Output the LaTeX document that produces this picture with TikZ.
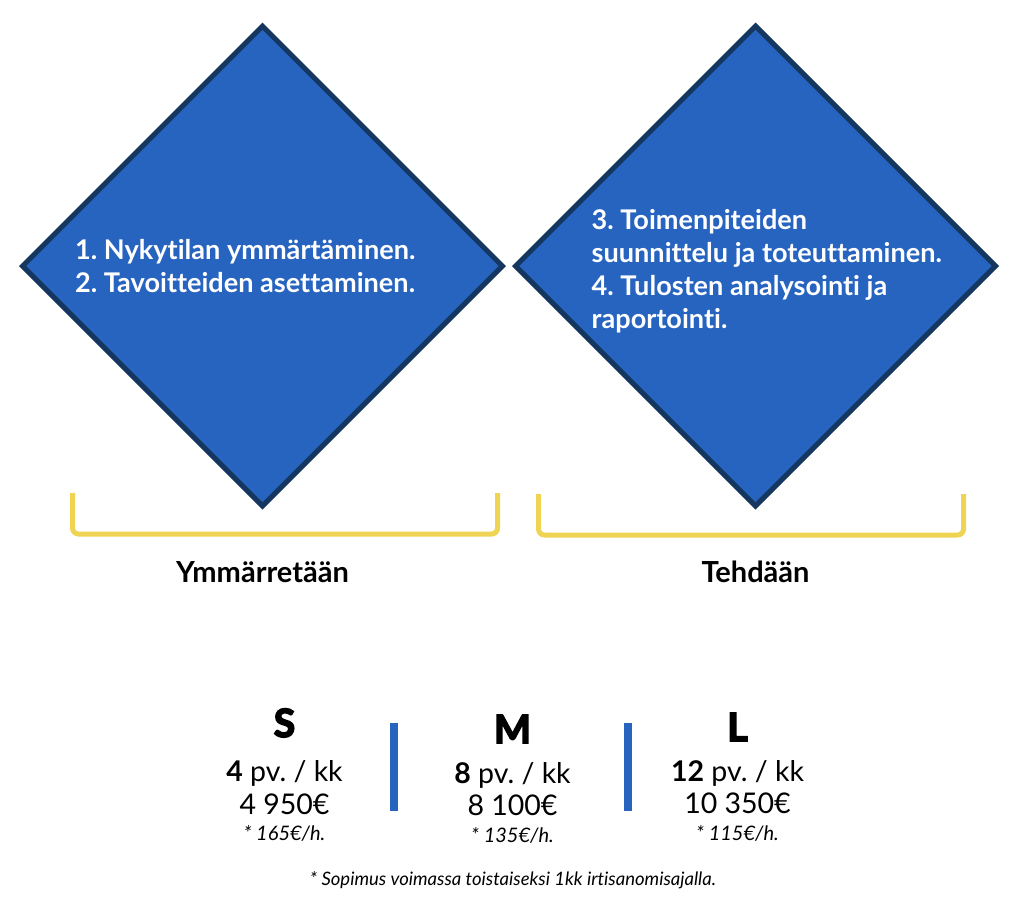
\documentclass[tikz,border=0pt]{standalone}
\usepackage{fontspec}
\setmainfont{Lato}[Ligatures=NoCommon]
\newfontfamily\latoheavy{Lato}[Ligatures=NoCommon,FakeBold=4]
\usetikzlibrary{shapes.geometric}
\definecolor{dblue}{HTML}{2764C0}
\definecolor{dborder}{HTML}{15375F}
\definecolor{byellow}{HTML}{EED452}
\frenchspacing
\begin{document}
\begin{tikzpicture}[x=1pt,y=-1pt,
  dia/.style={diamond, draw=dborder, fill=dblue, line width=5pt, minimum width=482pt, minimum height=482pt, inner sep=0pt, aspect=1},
  diatext/.style={text=white, font=\fontsize{27.1}{33}\selectfont\bfseries, align=left, anchor=base west, inner sep=0pt},
  bracket/.style={draw=byellow, line width=5pt, rounded corners=6pt},
  grouplabel/.style={font=\fontsize{29}{34}\selectfont\bfseries, anchor=base, inner sep=0pt},
  sizelabel/.style={font=\fontsize{39}{44}\selectfont\latoheavy\bfseries, anchor=base, inner sep=0pt},
  daysline/.style={font=\fontsize{28.5}{34}\selectfont, anchor=base, inner sep=0pt},
  rateline/.style={font=\fontsize{20}{24}\selectfont\itshape, anchor=base, inner sep=0pt},
  notetext/.style={font=\fontsize{18.5}{22}\selectfont\itshape, anchor=base, inner sep=0pt},
  sepbar/.style={fill=dblue, minimum width=7.5pt, minimum height=88pt, inner sep=0pt}
]
\useasboundingbox (0,0) rectangle (1024,906);

% diamonds
\node[dia] (d1) at (262.5,266) {};
\node[dia] (d2) at (755.5,266) {};
\node[diatext] (t1) at (75,292) {1. Nykytilan ymmärtäminen.\\2. Tavoitteiden asettaminen.};
\node[diatext] (t2) at (591.5,328) {3. Toimenpiteiden\\suunnittelu ja toteuttaminen.\\4. Tulosten analysointi ja\\raportointi.};

% brackets
\draw[bracket] (72.5,493) -- (72.5,534) -- (497.5,534) -- (497.5,493);
\draw[bracket] (538.5,494) -- (538.5,535) -- (963.5,535) -- (963.5,494);
\node[grouplabel] (g1) at (262.5,582) {Ymmärretään};
\node[grouplabel] (g2) at (755.5,582) {Tehdään};

% pricing
\node[sizelabel] (s) at (284.5,737) {S};
\node[sizelabel] (m) at (512.5,743) {M};
\node[sizelabel] (l) at (737.5,741) {L};

\node[daysline] (s1) at (284.5,781) {{\bfseries 4} pv. / kk};
\node[daysline] (m1) at (512.5,783) {{\bfseries 8} pv. / kk};
\node[daysline] (l1) at (737.5,781) {{\bfseries 12} pv. / kk};

\node[daysline] (s2) at (284.5,814) {4 950€};
\node[daysline] (m2) at (512.5,815) {8 100€};
\node[daysline] (l2) at (737.5,813) {10 350€};

\node[rateline] (s3) at (284.5,840) {* 165€/h.};
\node[rateline] (m3) at (512.5,842) {* 135€/h.};
\node[rateline] (l3) at (737.5,840) {* 115€/h.};

\node[sepbar] (b1) at (394,767) {};
\node[sepbar] (b2) at (628,767) {};

\node[notetext] (note) at (513,885) {* Sopimus voimassa toistaiseksi 1kk irtisanomisajalla.};
\end{tikzpicture}
\end{document}
